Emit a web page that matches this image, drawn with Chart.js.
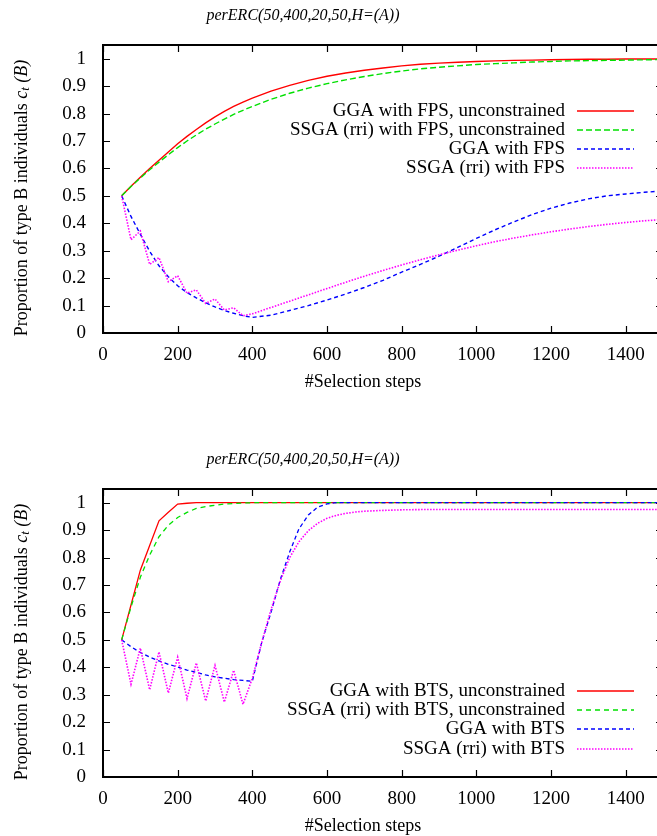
<!DOCTYPE html>
<html>
<head>
<meta charset="utf-8">
<script src="https://cdn.jsdelivr.net/npm/chart.js@4.4.1/dist/chart.umd.min.js"></script>
<style>
  html, body { margin: 0; padding: 0; background: #fff; overflow: hidden; }
  #wrap { position: relative; width: 657px; height: 836px; overflow: hidden; }
  .box { position: absolute; left: 0; width: 670px; }
  #box1 { top: 0; height: 444px; }
  #box2 { top: 444px; height: 392px; }
</style>
</head>
<body>
<div id="wrap">
  <div class="box" id="box1"><canvas id="fpsChart" width="670" height="444"></canvas></div>
  <div class="box" id="box2"><canvas id="btsChart" width="670" height="392"></canvas></div>
</div>
<script>
// selection steps (x values) for each panel
const stepsFps = [50,75,100,125,150,175,200,225,250,275,300,325,350,375,400,
  450,500,550,600,650,700,750,800,850,900,950,1000,1050,1100,1150,1200,1250,1300,1350,1400,1450,1500];
const stepsBts = [50,75,100,125,150,175,200,225,250,275,300,325,350,375,400,425,450,475,500,525,550,575,600,625,650,675,700,
  750,800,850,900,950,1000,1050,1100,1150,1200,1250,1300,1350,1400,1450,1500];

// top panel: fitness proportional selection
const ggaFpsFree = [0.5,0.535,0.568,0.6,0.63,0.66,0.69,0.717,0.742,0.766,0.788,0.808,0.826,0.842,0.856,
  0.882,0.903,0.921,0.936,0.948,0.958,0.966,0.974,0.98,0.984,0.987,0.99,0.992,0.994,0.995,0.996,0.997,0.998,0.998,0.999,0.999,0.999];
const ssgaFpsFree = [0.5,0.534,0.565,0.595,0.623,0.65,0.676,0.7,0.722,0.743,0.762,0.78,0.797,0.812,0.826,
  0.852,0.874,0.893,0.909,0.923,0.935,0.946,0.955,0.963,0.969,0.974,0.979,0.982,0.985,0.988,0.99,0.992,0.993,0.994,0.995,0.996,0.997];
const ggaFps = [0.5,0.425,0.36,0.298,0.245,0.205,0.172,0.147,0.128,0.11,0.095,0.082,0.072,0.063,0.057,
  0.065,0.082,0.1,0.12,0.142,0.166,0.192,0.222,0.25,0.28,0.312,0.345,0.376,0.405,0.432,0.455,0.474,0.489,0.5,0.507,0.513,0.518];
const ssgaFps = [0.5,0.34,0.372,0.25,0.275,0.187,0.209,0.145,0.157,0.108,0.124,0.084,0.092,0.063,0.07,
  0.093,0.116,0.139,0.162,0.185,0.207,0.228,0.248,0.267,0.285,0.302,0.318,0.333,0.346,0.358,0.369,0.379,0.388,0.396,0.403,0.409,0.414];

// bottom panel: binary tournament selection
const ggaBtsFree = [0.5,0.627,0.754,0.844,0.934,0.965,0.995,0.998,1,1,1,1,1,1,1,1,1,1,1,1,1,1,1,1,1,1,1,
  1,1,1,1,1,1,1,1,1,1,1,1,1,1,1,1];
const ssgaBtsFree = [0.5,0.62,0.728,0.809,0.876,0.918,0.946,0.965,0.979,0.986,0.991,0.995,0.997,0.999,1,1,1,1,1,1,1,1,1,1,1,1,1,
  1,1,1,1,1,1,1,1,1,1,1,1,1,1,1,1];
const ggaBts = [0.5,0.475,0.454,0.437,0.423,0.411,0.401,0.39,0.381,0.372,0.365,0.36,0.355,0.352,0.349,0.49,0.6,0.72,0.82,0.905,0.955,0.984,0.996,1,1,1,1,
  1,1,1,1,1,1,1,1,1,1,1,1,1,1,1,1];
const ssgaBts = [0.5,0.338,0.47,0.318,0.456,0.306,0.437,0.286,0.416,0.277,0.407,0.273,0.389,0.265,0.36,0.49,0.61,0.715,0.8,0.858,0.898,0.925,0.943,0.954,0.961,0.966,0.969,
  0.972,0.974,0.975,0.975,0.975,0.975,0.975,0.975,0.975,0.975,0.975,0.975,0.975,0.975,0.975,0.975];

const xTicks = [0,200,400,600,800,1000,1200,1400];
const yTicks = [0,0.1,0.2,0.3,0.4,0.5,0.6,0.7,0.8,0.9,1];

const FONT = '"Liberation Serif", "DejaVu Serif", serif';
Chart.defaults.color = '#000';

function series(steps, vals) {
  return steps.map((s, i) => ({ x: s, y: vals[i] }));
}

function line(label, steps, vals, color, dash, width, order) {
  return {
    label: label,
    data: series(steps, vals),
    borderColor: color,
    borderDash: dash,
    borderWidth: width,
    pointRadius: 0,
    fill: false,
    tension: 0,
    order: order
  };
}

// gnuplot style frame, inward ticks, titles and legend
const gnuplotLook = {
  id: 'gnuplotLook',
  beforeDatasetsDraw(chart) {
    const { ctx, chartArea: a, scales } = chart;
    ctx.save();
    ctx.strokeStyle = '#000';
    ctx.lineWidth = 1.2;
    ctx.beginPath();
    xTicks.forEach(v => {
      const px = Math.round(scales.x.getPixelForValue(v)) + 0.5;
      ctx.moveTo(px, a.bottom); ctx.lineTo(px, a.bottom - 7);
      ctx.moveTo(px, a.top); ctx.lineTo(px, a.top + 7);
    });
    yTicks.forEach(v => {
      const py = Math.round(scales.y.getPixelForValue(v)) + 0.5;
      ctx.moveTo(a.left, py); ctx.lineTo(a.left + 7, py);
      ctx.moveTo(a.right, py); ctx.lineTo(a.right - 7, py);
    });
    ctx.stroke();
    ctx.lineWidth = 2;
    ctx.strokeRect(a.left, a.top, a.right - a.left, a.bottom - a.top);
    ctx.restore();
  },
  afterDraw(chart, args, opts) {
    const { ctx, chartArea: a } = chart;
    ctx.save();
    ctx.fillStyle = '#000';
    ctx.textBaseline = 'middle';

    // plot title
    ctx.textAlign = 'center';
    ctx.font = 'italic 16px ' + FONT;
    ctx.fillText('perERC(50,400,20,50,H=(A))', a.left + 200, a.top - 29);

    // x axis title
    ctx.font = '18px ' + FONT;
    ctx.fillText('#Selection steps', a.left + 260, a.bottom + 49);

    // y axis title, rotated, with italic c_t (B)
    const parts = [
      { t: 'Proportion of type B individuals ', f: '18px ' + FONT, dy: 0 },
      { t: 'c', f: 'italic 18px ' + FONT, dy: 0 },
      { t: 't', f: 'italic 13px ' + FONT, dy: 4 },
      { t: ' (B)', f: 'italic 18px ' + FONT, dy: 0 }
    ];
    let total = 0;
    parts.forEach(p => { ctx.font = p.f; p.w = ctx.measureText(p.t).width; total += p.w; });
    ctx.translate(22, (a.top + a.bottom) / 2 + 9);
    ctx.rotate(-Math.PI / 2);
    ctx.textAlign = 'left';
    let cx = -total / 2;
    parts.forEach(p => { ctx.font = p.f; ctx.fillText(p.t, cx, p.dy); cx += p.w; });
    ctx.setTransform(1, 0, 0, 1, 0, 0);

    // legend, text right aligned with sample line on the right
    ctx.font = '19px ' + FONT;
    ctx.textAlign = 'right';
    chart.data.datasets.forEach((ds, i) => {
      const y = Math.round(a.top + opts.legendTop + i * opts.legendGap);
      ctx.fillStyle = '#000';
      ctx.fillText(ds.label, a.left + 462, y);
      ctx.save();
      ctx.strokeStyle = ds.borderColor;
      ctx.lineWidth = ds.borderWidth;
      ctx.setLineDash(ds.borderDash);
      ctx.beginPath();
      ctx.moveTo(a.left + 474, y);
      ctx.lineTo(a.left + 531, y);
      ctx.stroke();
      ctx.restore();
    });
    ctx.restore();
  }
};

function makeOptions(legendTop, legendGap) {
  return {
    responsive: false,
    animation: false,
    events: [],
    layout: { padding: { top: 45, right: 7, left: 0, bottom: 0 } },
    plugins: {
      legend: { display: false },
      tooltip: { enabled: false },
      gnuplotLook: { legendTop: legendTop, legendGap: legendGap }
    },
    scales: {
      x: {
        type: 'linear',
        min: 0,
        max: 1500,
        grid: { display: false },
        border: { display: false },
        afterBuildTicks: s => { s.ticks = xTicks.map(v => ({ value: v })); },
        ticks: {
          autoSkip: false,
          maxRotation: 0,
          padding: 3,
          font: { family: FONT, size: 19 },
          callback: v => String(v)
        },
        afterFit: s => { s.height = s.chart.height - 45 - 288; }
      },
      y: {
        type: 'linear',
        min: 0,
        max: 1.05,
        grid: { display: false },
        border: { display: false },
        afterBuildTicks: s => { s.ticks = yTicks.map(v => ({ value: v })); },
        ticks: {
          autoSkip: false,
          padding: 9,
          font: { family: FONT, size: 19 },
          callback: v => String(Math.round(v * 10) / 10)
        },
        afterFit: s => { s.width = 103; }
      }
    }
  };
}

new Chart(document.getElementById('fpsChart'), {
  type: 'line',
  data: {
    datasets: [
      line('GGA with FPS, unconstrained', stepsFps, ggaFpsFree, '#ff0000', [], 1.4, 4),
      line('SSGA (rri) with FPS, unconstrained', stepsFps, ssgaFpsFree, '#00e000', [6, 3], 1.4, 3),
      line('GGA with FPS', stepsFps, ggaFps, '#0000ff', [4, 3], 1.4, 2),
      line('SSGA (rri) with FPS', stepsFps, ssgaFps, '#ff00ff', [1.5, 1.5], 1.6, 1)
    ]
  },
  options: makeOptions(66, 19),
  plugins: [gnuplotLook]
});

new Chart(document.getElementById('btsChart'), {
  type: 'line',
  data: {
    datasets: [
      line('GGA with BTS, unconstrained', stepsBts, ggaBtsFree, '#ff0000', [], 1.3, 4),
      line('SSGA (rri) with BTS, unconstrained', stepsBts, ssgaBtsFree, '#00e000', [5, 4], 1.3, 3),
      line('GGA with BTS', stepsBts, ggaBts, '#0000ff', [4, 3], 1.3, 2),
      line('SSGA (rri) with BTS', stepsBts, ssgaBts, '#ff00ff', [1.5, 1.5], 1.6, 1)
    ]
  },
  options: makeOptions(202, 19.2),
  plugins: [gnuplotLook]
});
</script>
</body>
</html>
